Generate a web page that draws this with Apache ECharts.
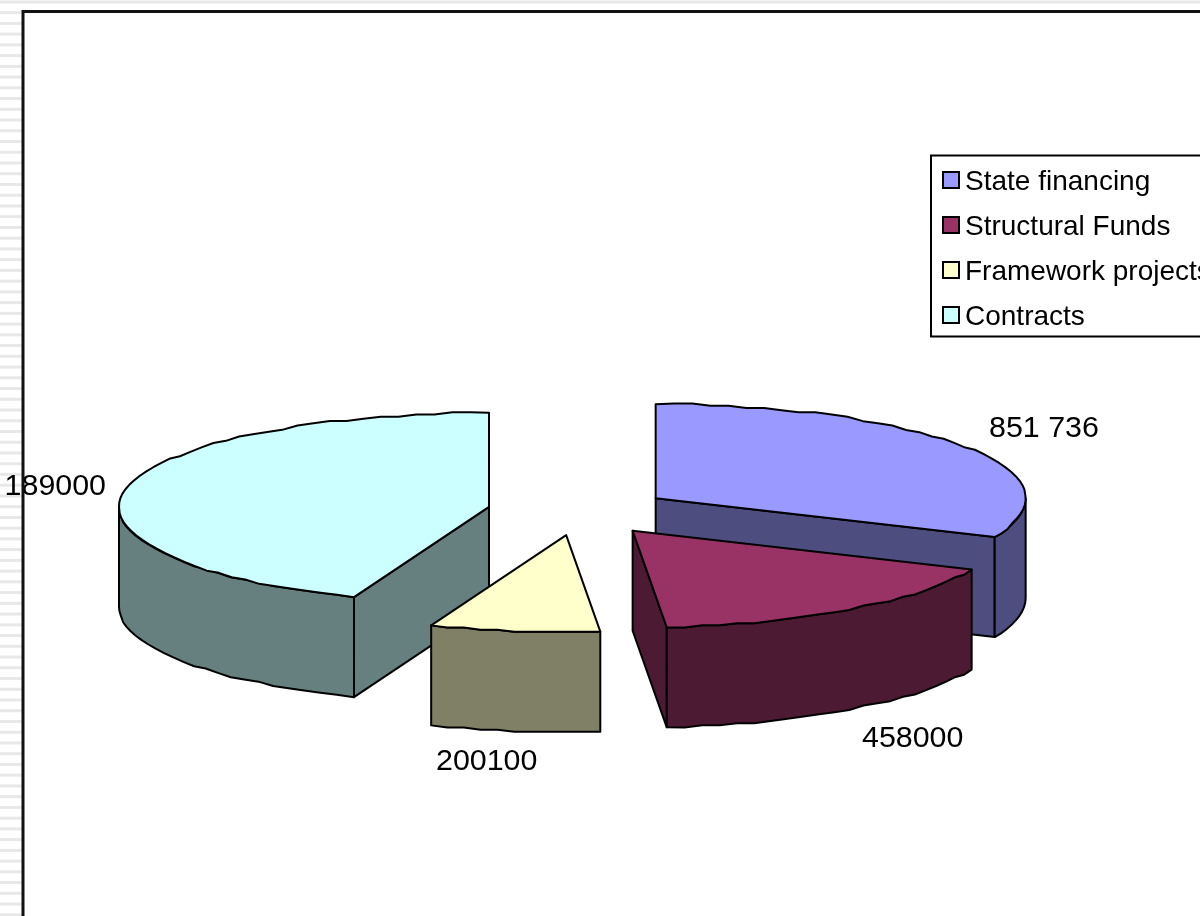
<!DOCTYPE html>
<html>
<head>
<meta charset="utf-8">
<style>html,body{margin:0;padding:0;background:#fff}#c{width:1200px;height:916px}</style>
<script src="https://cdn.jsdelivr.net/npm/echarts@6/dist/echarts.min.js"></script>
</head>
<body>
<div id="c"></div>
<script>
const categories = ['State financing', 'Structural Funds', 'Framework projects', 'Contracts'];
const values = [851736, 458000, 200100, 1189000];
const valueLabels = ['851 736', '458000', '200100', '189000'];
const topColors = ['#9999FF', '#993366', '#FFFFCC', '#CCFFFF'];
const sideColors = ['#4D4D80', '#4D1A33', '#808066', '#668080'];
const seriesZ = [3, 4, 5, 2];

const FONT = '"Liberation Sans", Arial, sans-serif';
const CX = 579, CY = 511.3, RX = 370, RY_BACK = 94, RY_FRONT = 97, DEPTH = 100, EX = 91.6, EY = 24;
const GRID = 2.2, ARC_STEP = 0.05;
const LABEL_XY = [[989, 428.5], [862, 738.5], [436, 761.5], [4.6, 486.5]];
const total = values.reduce((a, b) => a + b, 0);
const toAngle = v => v / total * 2 * Math.PI;
const snap = v => Math.round(v / GRID) * GRID;

function renderSlice(index) {
  return function (params, api) {
    const a0 = values.slice(0, index).reduce((s, v) => s + toAngle(v), 0);
    const a1 = a0 + toAngle(api.value(0));
    const mid = (a0 + a1) / 2;
    const ox = CX + EX * Math.sin(mid), oy = CY - EY * Math.cos(mid);
    const pt = (a, d, coarse) => {
      const c = Math.cos(a);
      let x = RX * Math.sin(a), y = -(c > 0 ? RY_BACK : RY_FRONT) * c;
      if (coarse) { y = snap(y); }
      return [ox + x, oy + y + (d || 0)];
    };
    const arc = (s, e, d) => {
      const n = Math.max(2, Math.ceil((e - s) / ARC_STEP)), r = [];
      for (let i = 0; i <= n; i++) {
        r.push(pt(s + (e - s) * i / n, d, i > 0 && i < n));
      }
      return r;
    };
    const stroke = { stroke: '#000', lineWidth: 2, lineJoin: 'round' };
    const poly = (points, fill) => ({
      type: 'polygon', shape: { points }, style: Object.assign({ fill }, stroke)
    });
    const side = sideColors[index], kids = [];
    const apexLow = [ox, oy + DEPTH];
    if (Math.sin(a0) < -1e-6) kids.push(poly([[ox, oy], pt(a0), pt(a0, DEPTH), apexLow], side));
    if (Math.sin(a1) > 1e-6) kids.push(poly([[ox, oy], pt(a1), pt(a1, DEPTH), apexLow], side));
    const s = Math.max(a0, Math.PI / 2), e = Math.min(a1, 3 * Math.PI / 2);
    if (e > s) kids.push(poly(arc(s, e, 0).concat(arc(s, e, DEPTH).reverse()), side));
    kids.push(poly([[ox, oy]].concat(arc(a0, a1, 0)), topColors[index]));
    kids.push({
      type: 'text', x: LABEL_XY[index][0], y: LABEL_XY[index][1],
      style: { text: valueLabels[index], fill: '#000', font: '30.4px ' + FONT,
               textAlign: 'left', textVerticalAlign: 'middle' }
    });
    return { type: 'group', children: kids };
  };
}

const stripes = [];
for (let i = 0; i < 86; i++) {
  stripes.push({
    type: 'rect', silent: true, z: 0,
    shape: { x: 0, y: 0.4 + i * 10.74, width: i === 0 ? 1200 : 22, height: 3 },
    style: { fill: '#e8e8e8' }
  });
}
const frame = {
  type: 'polyline', silent: true, z: 20,
  shape: { points: [[23, 916], [23, 11.5], [1200, 11.5]] },
  style: { fill: null, stroke: '#111', lineWidth: 3 }
};

const chart = echarts.init(document.getElementById('c'), null, { renderer: 'canvas' });
chart.setOption({
  animation: false,
  backgroundColor: '#fff',
  color: topColors,
  graphic: { elements: stripes.concat([frame]) },
  legend: {
    orient: 'vertical', left: 931, top: 155.5,
    data: categories,
    backgroundColor: '#fff', borderColor: '#000', borderWidth: 2,
    padding: [8.5, 40, 5.5, 11],
    itemWidth: 16, itemHeight: 16, itemGap: 13, icon: 'rect',
    selectedMode: false,
    formatter: name => '{t|' + name + '}',
    itemStyle: { borderColor: '#000', borderWidth: 2 },
    textStyle: {
      color: '#000', fontSize: 28, fontFamily: FONT,
      rich: { t: { color: '#000', fontSize: 28, fontFamily: FONT, lineHeight: 28, padding: [4, 0, 0, 1] } }
    }
  },
  series: categories.map((name, i) => ({
    type: 'custom', name, coordinateSystem: 'none', z: seriesZ[i],
    clip: false, silent: true,
    itemStyle: { color: topColors[i] },
    data: [[values[i]]],
    renderItem: renderSlice(i)
  }))
});
</script>
</body>
</html>
